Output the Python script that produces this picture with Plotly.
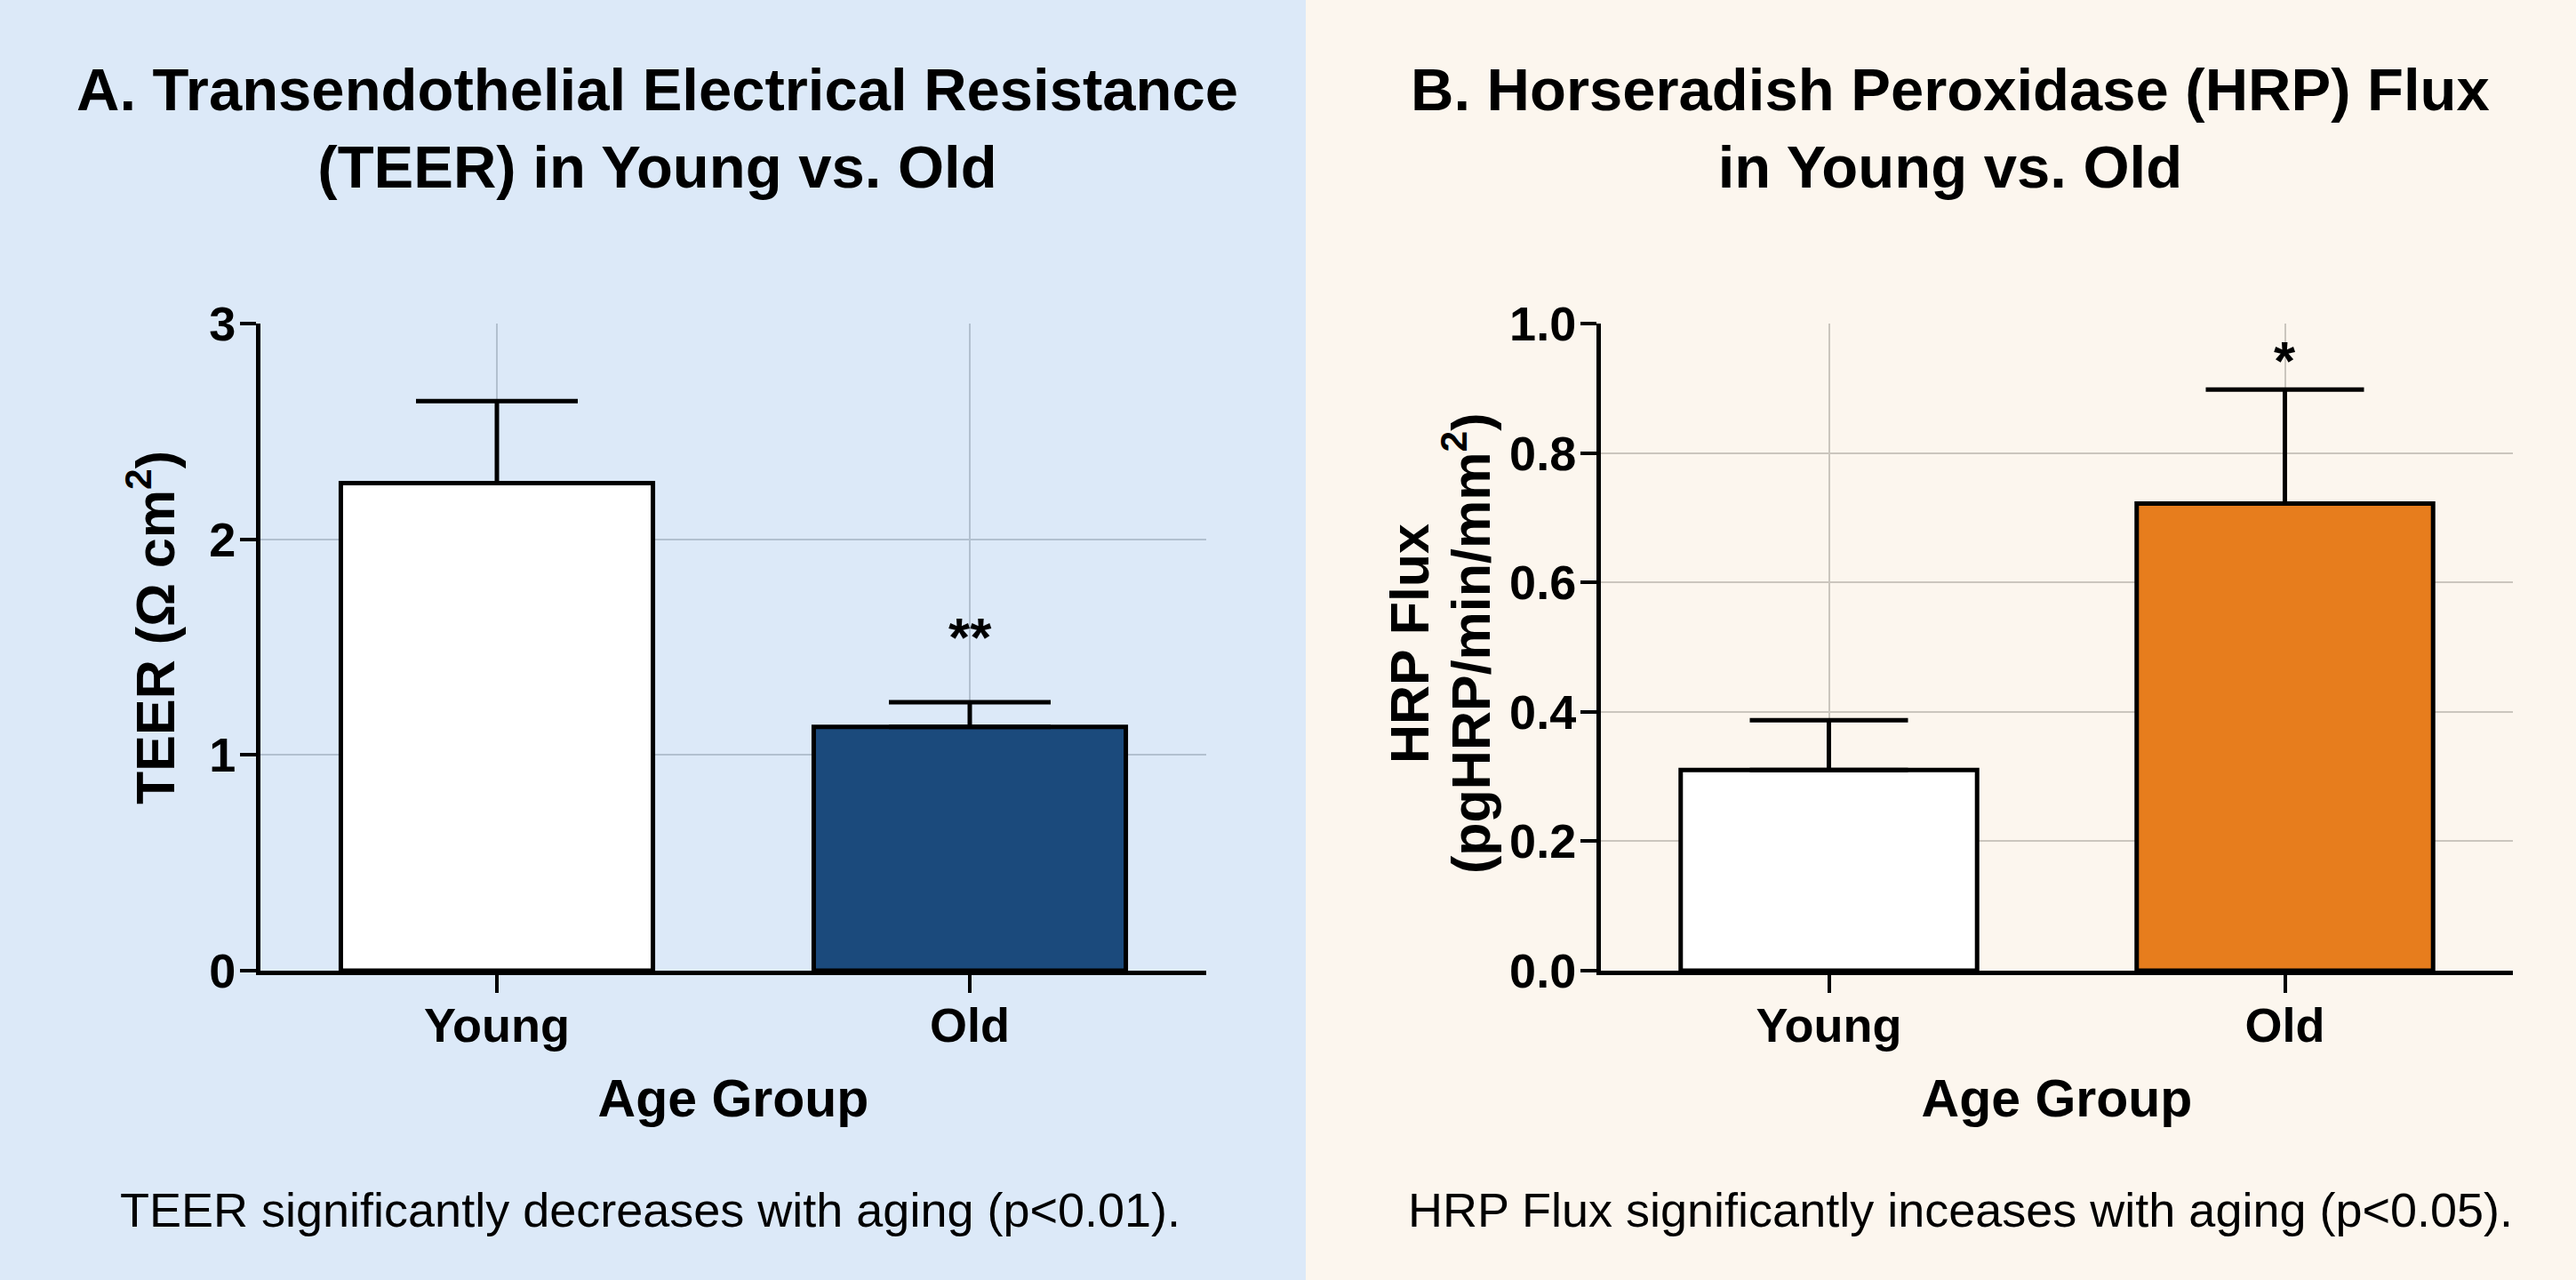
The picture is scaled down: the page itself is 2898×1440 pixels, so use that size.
import plotly.graph_objects as go

# ---------------- data ----------------
categories = ["Young", "Old"]

teer_mean = [2.26, 1.13]
teer_err_top = [2.64, 1.245]
teer_stars = ["", "**"]
teer_star_y = [None, 1.595]

hrp_mean = [0.31, 0.722]
hrp_err_top = [0.387, 0.898]
hrp_stars = ["", "*"]
hrp_star_y = [None, 0.96]

teer_ticks = [0, 1, 2, 3]
hrp_ticks = [0.0, 0.2, 0.4, 0.6, 0.8, 1.0]

# ---------------- styles ----------------
W, H = 2898, 1440
FONT = "Liberation Sans, Arial, Helvetica, sans-serif"
BG_LEFT = "#dce9f8"
BG_RIGHT = "#fcf6ee"
GRID_A = "#b2c0cf"
GRID_B = "#cbc6be"
BLUE = "#1b4a7c"
ORANGE = "#e77d1d"

teer_plus = [t - m for t, m in zip(teer_err_top, teer_mean)]
hrp_plus = [t - m for t, m in zip(hrp_err_top, hrp_mean)]

fig = go.Figure()

fig.add_trace(go.Bar(
    x=categories, y=teer_mean, xaxis="x", yaxis="y", width=0.66,
    marker=dict(color=["#ffffff", BLUE], line=dict(color="black", width=5)),
    error_y=dict(type="data", symmetric=False, array=teer_plus,
                 arrayminus=[0, 0], color="black", thickness=5, width=91),
    showlegend=False,
))
fig.add_trace(go.Bar(
    x=categories, y=hrp_mean, xaxis="x2", yaxis="y2", width=0.65,
    marker=dict(color=["#ffffff", ORANGE], line=dict(color="black", width=5)),
    error_y=dict(type="data", symmetric=False, array=hrp_plus,
                 arrayminus=[0, 0], color="black", thickness=5, width=89),
    showlegend=False,
))

annotations = []
for c, s, y in zip(categories, teer_stars, teer_star_y):
    if s:
        annotations.append(dict(x=c, y=y, xref="x", yref="y", text=s, showarrow=False,
                                yanchor="middle", yshift=-12,
                                font=dict(family=FONT, size=62, color="black", weight="bold")))
for c, s, y in zip(categories, hrp_stars, hrp_star_y):
    if s:
        annotations.append(dict(x=c, y=y, xref="x2", yref="y2", text=s, showarrow=False,
                                yanchor="middle", yshift=-12,
                                font=dict(family=FONT, size=62, color="black", weight="bold")))

titlefont_big = dict(family=FONT, size=67, color="black", weight="bold")
# titles
annotations.append(dict(x=740 / W, y=1 - 61 / H, xref="paper", yref="paper", showarrow=False,
                        xanchor="center", yanchor="top",
                        text="A. Transendothelial Electrical Resistance<br>(TEER) in Young vs. Old",
                        font=titlefont_big))
annotations.append(dict(x=2194 / W, y=1 - 61 / H, xref="paper", yref="paper", showarrow=False,
                        xanchor="center", yanchor="top",
                        text="B. Horseradish Peroxidase (HRP) Flux<br>in Young vs. Old",
                        font=titlefont_big))
# captions
annotations.append(dict(x=731 / W, y=1 - 1361 / H, xref="paper", yref="paper", showarrow=False,
                        xanchor="center", yanchor="middle",
                        text="TEER significantly decreases with aging (p<0.01).",
                        font=dict(family=FONT, size=54, color="black")))
annotations.append(dict(x=2205 / W, y=1 - 1361 / H, xref="paper", yref="paper", showarrow=False,
                        xanchor="center", yanchor="middle",
                        text="HRP Flux significantly inceases with aging (p<0.05).",
                        font=dict(family=FONT, size=54, color="black")))

ytitlefont = dict(family=FONT, size=61, color="black", weight="bold")
# y-axis titles
annotations.append(dict(x=170 / W, y=1 - 706 / H, xref="paper", yref="paper", showarrow=False,
                        xanchor="center", yanchor="middle", textangle=-90,
                        text="TEER (Ω cm<sup>2</sup>)", font=ytitlefont))
annotations.append(dict(x=1586 / W, y=1 - 724 / H, xref="paper", yref="paper", showarrow=False,
                        xanchor="center", yanchor="middle", textangle=-90,
                        text="HRP Flux", font=ytitlefont))
annotations.append(dict(x=1650 / W, y=1 - 724 / H, xref="paper", yref="paper", showarrow=False,
                        xanchor="center", yanchor="middle", textangle=-90,
                        text="(pgHRP/min/mm<sup>2</sup>)", font=ytitlefont))

tickfont = dict(family=FONT, size=54, color="black", weight="bold")
titlefont = dict(family=FONT, size=59, color="black", weight="bold")

ydom = [1 - 1092 / H, 1 - 364 / H]

common_x = dict(type="category", range=[-0.5, 1.5], showline=True, linecolor="black",
                linewidth=5, ticks="outside", ticklen=20, tickwidth=4, tickcolor="black",
                tickfont=tickfont, showgrid=True, gridwidth=2, zeroline=False,
                automargin=False, ticklabelstandoff=-10,
                title=dict(text="Age Group", font=titlefont, standoff=34))
common_y = dict(showline=True, linecolor="black", linewidth=5, ticks="outside", ticklen=18,
                tickwidth=4, tickcolor="black", tickfont=tickfont, showgrid=True,
                gridwidth=2, zeroline=False, automargin=False, ticklabelstandoff=-6)

fig.update_layout(
    width=W, height=H,
    margin=dict(l=0, r=0, t=0, b=0, autoexpand=False),
    paper_bgcolor=BG_RIGHT,
    plot_bgcolor="rgba(0,0,0,0)",
    font=dict(family=FONT, color="black"),
    barmode="group",
    xaxis=dict(common_x, domain=[293 / W, 1357 / W], anchor="y", gridcolor=GRID_A),
    yaxis=dict(common_y, domain=ydom, anchor="x", range=[0, 3], tickvals=teer_ticks,
               gridcolor=GRID_A),
    xaxis2=dict(common_x, domain=[1801 / W, 2827 / W], anchor="y2", gridcolor=GRID_B),
    yaxis2=dict(common_y, domain=ydom, anchor="x2", range=[0, 1], tickvals=hrp_ticks,
                tickformat=".1f", gridcolor=GRID_B),
    annotations=annotations,
    shapes=[dict(type="rect", xref="paper", yref="paper", x0=0, x1=1469 / W, y0=0, y1=1,
                 fillcolor=BG_LEFT, line=dict(width=0), layer="below")],
)

fig.write_html("out.html")
